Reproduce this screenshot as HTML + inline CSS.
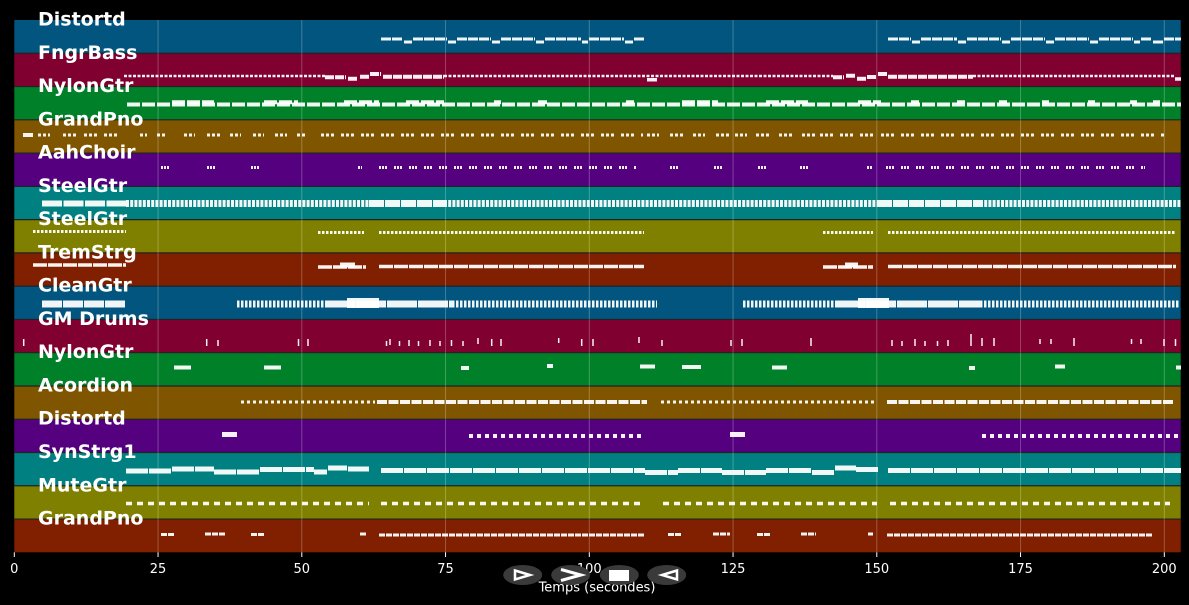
<!DOCTYPE html>
<html>
<head>
<meta charset="utf-8">
<style>
html,body{margin:0;padding:0;background:#000;}
body{width:1189px;height:605px;overflow:hidden;}
svg{display:block;}
.lbl{font-family:"DejaVu Sans","Liberation Sans",sans-serif;font-weight:bold;font-size:19px;fill:#fff;}
.tk{font-family:"DejaVu Sans","Liberation Sans",sans-serif;font-size:13px;fill:#fff;text-anchor:middle;}
.n{fill:none;stroke:#fff;stroke-opacity:0.94;}
</style>
</head>
<body>
<svg width="1189" height="605" viewBox="0 0 1189 605" xmlns="http://www.w3.org/2000/svg">
<rect x="0" y="0" width="1189" height="605" fill="#000"/>
<!-- bands -->
<rect x="14.3" y="20" width="1166.4" height="33.27" fill="#01557f"/>
<rect x="14.3" y="53.27" width="1166.4" height="33.27" fill="#80002f"/>
<rect x="14.3" y="86.54" width="1166.4" height="33.27" fill="#008028"/>
<rect x="14.3" y="119.81" width="1166.4" height="33.27" fill="#805500"/>
<rect x="14.3" y="153.08" width="1166.4" height="33.27" fill="#55007f"/>
<rect x="14.3" y="186.35" width="1166.4" height="33.27" fill="#008080"/>
<rect x="14.3" y="219.62" width="1166.4" height="33.27" fill="#808000"/>
<rect x="14.3" y="252.89" width="1166.4" height="33.27" fill="#802000"/>
<rect x="14.3" y="286.16" width="1166.4" height="33.27" fill="#01557f"/>
<rect x="14.3" y="319.43" width="1166.4" height="33.27" fill="#80002f"/>
<rect x="14.3" y="352.7" width="1166.4" height="33.27" fill="#008028"/>
<rect x="14.3" y="385.97" width="1166.4" height="33.27" fill="#805500"/>
<rect x="14.3" y="419.24" width="1166.4" height="33.27" fill="#55007f"/>
<rect x="14.3" y="452.51" width="1166.4" height="33.27" fill="#008080"/>
<rect x="14.3" y="485.78" width="1166.4" height="33.27" fill="#808000"/>
<rect x="14.3" y="519.05" width="1166.4" height="33.27" fill="#802000"/>
<!-- separators -->
<g stroke="#222" stroke-width="1.2">
<line x1="14.3" x2="1180.7" y1="53.27" y2="53.27"/>
<line x1="14.3" x2="1180.7" y1="86.54" y2="86.54"/>
<line x1="14.3" x2="1180.7" y1="119.81" y2="119.81"/>
<line x1="14.3" x2="1180.7" y1="153.08" y2="153.08"/>
<line x1="14.3" x2="1180.7" y1="186.35" y2="186.35"/>
<line x1="14.3" x2="1180.7" y1="219.62" y2="219.62"/>
<line x1="14.3" x2="1180.7" y1="252.89" y2="252.89"/>
<line x1="14.3" x2="1180.7" y1="286.16" y2="286.16"/>
<line x1="14.3" x2="1180.7" y1="319.43" y2="319.43"/>
<line x1="14.3" x2="1180.7" y1="352.7" y2="352.7"/>
<line x1="14.3" x2="1180.7" y1="385.97" y2="385.97"/>
<line x1="14.3" x2="1180.7" y1="419.24" y2="419.24"/>
<line x1="14.3" x2="1180.7" y1="452.51" y2="452.51"/>
<line x1="14.3" x2="1180.7" y1="485.78" y2="485.78"/>
<line x1="14.3" x2="1180.7" y1="519.05" y2="519.05"/>
</g>
<!-- grid -->
<g stroke="#fff" stroke-opacity="0.25" stroke-width="1">
<line x1="158.05" x2="158.05" y1="20" y2="552.3"/>
<line x1="301.8" x2="301.8" y1="20" y2="552.3"/>
<line x1="445.55" x2="445.55" y1="20" y2="552.3"/>
<line x1="589.3" x2="589.3" y1="20" y2="552.3"/>
<line x1="733.05" x2="733.05" y1="20" y2="552.3"/>
<line x1="876.8" x2="876.8" y1="20" y2="552.3"/>
<line x1="1020.55" x2="1020.55" y1="20" y2="552.3"/>
<line x1="1164.3" x2="1164.3" y1="20" y2="552.3"/>
</g>

<!-- Track 0 Distortd -->
<path class="n" stroke-width="3" stroke-dasharray="10 1" d="M381 39H403M413 39H447M457 39H491M501 39H535M545 39H581M589 39H624M634 39H645M888 39H911M921 39H957M967 39H1001M1011 39H1045M1055 39H1089M1099 39H1133M1141 39H1152M1164 39H1181"/>
<path class="n" stroke-width="3" d="M404 42H412M448 42H456M492 42H500M536 42H544M582 42H588M625 42H633M912 42H920M958 42H966M1002 42H1010M1046 42H1054M1090 42H1098M1134 42H1140M1153 42H1163"/>

<!-- Track 1 FngrBass -->
<path class="n" stroke-width="2.5" stroke-dasharray="3 1.5" d="M124 76H325M444 76H833M973 76H1175"/>
<path class="n" stroke-width="4" stroke-dasharray="9 1" d="M325 77.3H346M348 78.7H358M360 76.7H369M370 74H381M383 76.7H444M833 77.3H844M846 75.7H856M857 78.7H866M867 77H877M878 74H888M888 76.7H973"/>
<path class="n" stroke-width="3.5" d="M647 79.7H657M1175 79H1181"/>

<!-- Track 2 NylonGtr -->
<path class="n" stroke-width="4" stroke-dasharray="13 2" d="M127 104.5H1181"/>
<path class="n" stroke-width="4" stroke-dasharray="13 2" d="M172 102.3H214M264 102.3H298M344 102.3H379M406 102.3H444M494 102.3H501M538 102.3H547M626 102.3H634M682 102.3H718M766 102.3H808M858 102.3H881M911 102.3H919M957 102.3H965M999 102.3H1007M1042 102.3H1049M1088 102.3H1095M1130 102.3H1137M1153 102.3H1160"/>

<!-- Track 3 GrandPno -->
<path class="n" stroke-width="3" stroke-dasharray="3 2 3 2 3 7" d="M38 135H50M63 135H76M84 135H122M140 135H147M157 135H165M184 135H195M207 135H220M230 135H241M253 135H264M275 135H287M297 135H306M321 135H643M647 135H659M670 135H684M693 135H705M716 135H731M735 135H747M756 135H770M779 135H793M802 135H816M820 135H877M881 135H1164"/>
<path class="n" stroke-width="4" d="M23 135H33"/>

<!-- Track 4 AahChoir -->
<path class="n" stroke-width="3" stroke-dasharray="2 1 2 1 2 7" d="M161 167.5H170M207 167.5H222M251 167.5H264M358 167.5H362M379 167.5H636M670 167.5H682M714 167.5H728M758 167.5H770M800 167.5H814M867 167.5H873M886 167.5H1145"/>

<!-- Track 5 SteelGtr -->
<path class="n" stroke-width="6" stroke-dasharray="20 1.5" d="M42 203.5H126"/>
<path class="n" stroke-width="7" stroke-dasharray="3 1.2" d="M126 203.5H369M444 203.5H877M980 203.5H1181"/>
<path class="n" stroke-width="7" stroke-dasharray="15 1" d="M369 203.5H444M877 203.5H980"/>

<!-- Track 6 SteelGtr -->
<path class="n" stroke-width="3" stroke-dasharray="2.5 1.5" d="M33 231.5H126M318 232.5H364M379 232.5H644M823 232.5H873M888 232.5H1176"/>

<!-- Track 7 TremStrg -->
<path class="n" stroke-width="3.5" stroke-dasharray="14 1" d="M33 265H126M318 267H366M379 266.5H644M823 267H873M888 266.5H1176"/>
<path class="n" stroke-width="5" d="M340 265H355M845 265H858"/>

<!-- Track 8 CleanGtr -->
<path class="n" stroke-width="7" stroke-dasharray="20 1" d="M42 304H126"/>
<path class="n" stroke-width="7" stroke-dasharray="2.5 1.5" d="M237 304H325M452 304H657M743 304H835M980 304H1179"/>
<path class="n" stroke-width="7" stroke-dasharray="30 1" d="M325 304H452M835 304H980"/>
<path class="n" stroke-width="10" d="M347 303H379M858 303H889"/>

<!-- Track 9 GM Drums -->
<path class="n" stroke-width="1.5" d="M23.7 339V346M206.7 339V346M218 340V346M298.5 339V346M308 339V346M386.5 341V346M390 339V345M399.5 341V346M409 340V346M418.5 341V346M430 340V346M440 341V346M451.5 340V346M463 341V346M478 338V344M491.7 339V346M501 339V346M558.7 338V343M581.7 339V346M593 339V346M639 337V343M662 340V346M731 340V346M742 339V346M811 338V346M892 340V346M902 341V346M915 339V346M925 341V346M937.5 341V346M948 340V346M971 334V346M982 338V346M994 338V346M1040 339V344M1051 339V344M1074 338V346M1131.5 339V344M1141 339V344M1164 339V346M1175.5 339V346"/>

<!-- Track 10 NylonGtr -->
<path class="n" stroke-width="4" d="M174 367.5H191M264 367.5H281M461 368H469M547 366H553M640 366.5H655M682 367H701M772 367.5H787M969 368H975M1055 366.5H1065M1176 367.5H1181"/>

<!-- Track 11 Acordion -->
<path class="n" stroke-width="3" stroke-dasharray="3 3" d="M241 402H375M661 402H877"/>
<path class="n" stroke-width="4" stroke-dasharray="10 1.5" d="M377 402H647M887 402H1174"/>

<!-- Track 12 Distortd -->
<path class="n" stroke-width="5" d="M222 434.5H237M730 434.5H745"/>
<path class="n" stroke-width="4" stroke-dasharray="4 4" d="M469 436H644M982 436H1181"/>

<!-- Track 13 SynStrg1 -->
<path class="n" stroke-width="5" stroke-dasharray="22 1" d="M126 471H172M172 469H214M214 472H260M260 469.5H314M314 472H327M328 468H347M348 469H369M381 470.5H645M645 472.5H678M678 470.5H722M722 472.5H766M766 470.5H812M812 472.5H834M835 468H856M856 469.5H879M888 470.5H1181"/>

<!-- Track 14 MuteGtr -->
<path class="n" stroke-width="3.5" stroke-dasharray="6 5" d="M126 503.5H369M381 503.5H644M663 503.5H877M890 503.5H1170"/>

<!-- Track 15 GrandPno -->
<path class="n" stroke-width="3" stroke-dasharray="6 1" d="M161 534.5H174M205 534H226M251 534.5H264M360 534H366M379 535H645M668 534.5H682M713 534H730M757 534.5H770M801 534H816M868 534H873M887 535H1153"/>

<!-- labels -->
<text class="lbl" x="38" y="25.5">Distortd</text>
<text class="lbl" x="38" y="58.8">FngrBass</text>
<text class="lbl" x="38" y="92">NylonGtr</text>
<text class="lbl" x="38" y="125.3">GrandPno</text>
<text class="lbl" x="38" y="158.6">AahChoir</text>
<text class="lbl" x="38" y="191.9">SteelGtr</text>
<text class="lbl" x="38" y="225.1">SteelGtr</text>
<text class="lbl" x="38" y="258.4">TremStrg</text>
<text class="lbl" x="38" y="291.7">CleanGtr</text>
<text class="lbl" x="38" y="324.9">GM Drums</text>
<text class="lbl" x="38" y="358.2">NylonGtr</text>
<text class="lbl" x="38" y="391.5">Acordion</text>
<text class="lbl" x="38" y="424.7">Distortd</text>
<text class="lbl" x="38" y="458">SynStrg1</text>
<text class="lbl" x="38" y="491.3">MuteGtr</text>
<text class="lbl" x="38" y="524.6">GrandPno</text>

<!-- ticks -->
<g stroke="#fff" stroke-width="1">
<line x1="14.3" x2="14.3" y1="552.3" y2="557"/>
<line x1="158.05" x2="158.05" y1="552.3" y2="557"/>
<line x1="301.8" x2="301.8" y1="552.3" y2="557"/>
<line x1="445.55" x2="445.55" y1="552.3" y2="557"/>
<line x1="589.3" x2="589.3" y1="552.3" y2="557"/>
<line x1="733.05" x2="733.05" y1="552.3" y2="557"/>
<line x1="876.8" x2="876.8" y1="552.3" y2="557"/>
<line x1="1020.55" x2="1020.55" y1="552.3" y2="557"/>
<line x1="1164.3" x2="1164.3" y1="552.3" y2="557"/>
</g>
<text class="tk" x="14.3" y="573">0</text>
<text class="tk" x="158.05" y="573">25</text>
<text class="tk" x="301.8" y="573">50</text>
<text class="tk" x="445.55" y="573">75</text>
<text class="tk" x="589.3" y="573">100</text>
<text class="tk" x="733.05" y="573">125</text>
<text class="tk" x="876.8" y="573">150</text>
<text class="tk" x="1020.55" y="573">175</text>
<text class="tk" x="1164.3" y="573">200</text>
<text class="tk" x="597" y="591.5">Temps (secondes)</text>

<!-- control buttons -->
<ellipse cx="522.7" cy="575" rx="19.5" ry="10" fill="#3a3a3a"/>
<ellipse cx="570.7" cy="575" rx="19.5" ry="10" fill="#3a3a3a"/>
<ellipse cx="619.3" cy="575" rx="19.5" ry="10" fill="#3a3a3a"/>
<ellipse cx="666.7" cy="575" rx="19.5" ry="10" fill="#3a3a3a"/>
<polygon points="515,570.5 530,575 515,579.5" fill="none" stroke="#fff" stroke-width="2.5" stroke-linejoin="miter"/>
<polyline points="561,569.5 581,575 561,580.5" fill="none" stroke="#fff" stroke-width="3"/>
<rect x="609" y="570" width="20" height="11" fill="#fff"/>
<polygon points="677,570.5 662,575 677,579.5" fill="none" stroke="#fff" stroke-width="2.5"/>
</svg>
</body>
</html>
